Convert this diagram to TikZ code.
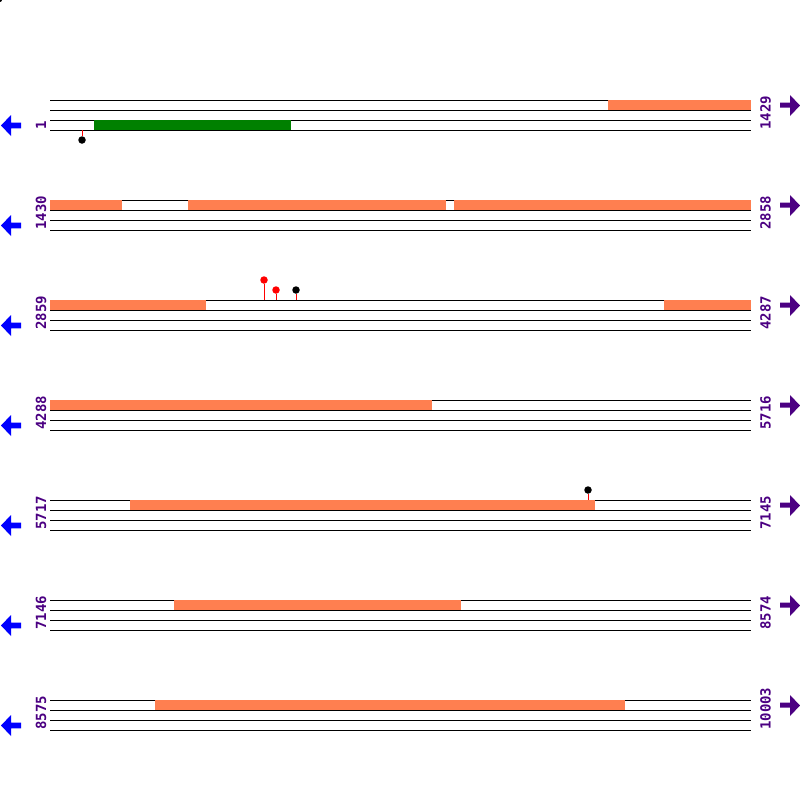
\documentclass[tikz,border=0pt]{standalone}
\usepackage{fontspec}
\setmonofont{DejaVu Sans Mono}
\usepackage{tikz}
\usetikzlibrary{positioning}

\definecolor{bandorange}{HTML}{FF7F50}
\definecolor{banddgreen}{HTML}{008000}
\definecolor{poslabel}{HTML}{4B0082}

\begin{document}
\begin{tikzpicture}[x=1pt, y=-1pt,
  strand/.style={draw=black, line width=0.9pt},
  orangeband/.style={fill=bandorange, draw=none},
  greenband/.style={fill=banddgreen, draw=none},
  numlabel/.style={rotate=90, anchor=west, inner sep=0pt, text=poslabel,
    font=\ttfamily\bfseries\fontsize{14}{14}\selectfont},
  revarrow/.style={fill=blue, draw=none},
  fwdarrow/.style={fill=poslabel, draw=none},
  pin/.style={line width=1pt},
  pinhead/.style={circle, inner sep=0pt, minimum size=7.5pt}
]
\useasboundingbox (0,0) rectangle (800,800);
\fill[black] (0,0) circle (2);

% rows
\foreach \r in {0,...,6} {
  \pgfmathsetmacro{\ya}{100+100*\r}
  \foreach \d in {0,10,20,30}
    \draw[strand] (50,\ya+\d) -- (751,\ya+\d);
  \fill[revarrow] (1,\ya+25.5) -- (11,\ya+15) -- (11,\ya+22.7) -- (21,\ya+22.7)
    -- (21,\ya+28.3) -- (11,\ya+28.3) -- (11,\ya+36) -- cycle;
  \fill[fwdarrow] (800,\ya+5.5) -- (790,\ya-5) -- (790,\ya+2.5) -- (780,\ya+2.5)
    -- (780,\ya+7.5) -- (790,\ya+7.5) -- (790,\ya+16) -- cycle;
}

% bands
\fill[orangeband] (608,100) rectangle (751,110);
\fill[greenband] (94,120) rectangle (291,130);
\fill[orangeband] (50,200) rectangle (122,210);
\fill[orangeband] (188,200) rectangle (446,210);
\fill[orangeband] (454,200) rectangle (751,210);
\fill[orangeband] (50,300) rectangle (206,310);
\fill[orangeband] (664,300) rectangle (751,310);
\fill[orangeband] (50,400) rectangle (432,410);
\fill[orangeband] (130,500) rectangle (595,510);
\fill[orangeband] (174,600) rectangle (461,610);
\fill[orangeband] (155,700) rectangle (625,710);

% position labels
\node[numlabel] (s1) at (41,130) {1};
\node[numlabel] (e1) at (765.5,130) {1429};
\node[numlabel] (s2) at (41,230) {1430};
\node[numlabel] (e2) at (765.5,230) {2858};
\node[numlabel] (s3) at (41,330) {2859};
\node[numlabel] (e3) at (765.5,330) {4287};
\node[numlabel] (s4) at (41,430) {4288};
\node[numlabel] (e4) at (765.5,430) {5716};
\node[numlabel] (s5) at (41,530) {5717};
\node[numlabel] (e5) at (765.5,530) {7145};
\node[numlabel] (s6) at (41,630) {7146};
\node[numlabel] (e6) at (765.5,630) {8574};
\node[numlabel] (s7) at (41,730) {8575};
\node[numlabel] (e7) at (765.5,730) {10003};

% sites
\coordinate (site1) at (82,130);
\coordinate (site2) at (264,300);
\coordinate (site3) at (276,300);
\coordinate (site4) at (296,300);
\coordinate (site5) at (588,500);
\node[pinhead, fill=black] (head1) at (82,140) {};
\node[pinhead, fill=red] (head2) at (264,280) {};
\node[pinhead, fill=red] (head3) at (276,290) {};
\node[pinhead, fill=black] (head4) at (296,290) {};
\node[pinhead, fill=black] (head5) at (588,490) {};
\draw[pin, red] (site1) -- (head1);
\draw[pin, red] (site2) -- (head2);
\draw[pin, red] (site3) -- (head3);
\draw[pin, red] (site4) -- (head4);
\draw[pin, red] (site5) -- (head5);

\end{tikzpicture}
\end{document}
